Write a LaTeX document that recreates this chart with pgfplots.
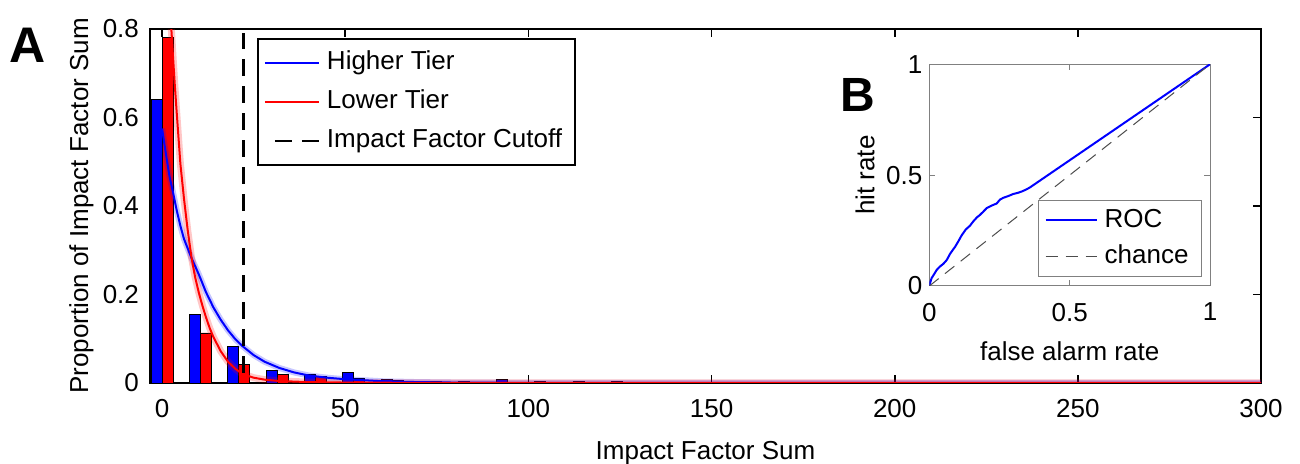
\documentclass[border=0pt]{standalone}
\usepackage{fontspec}
\setmainfont{Liberation Sans}
\usepackage{pgfplots}
\pgfplotsset{compat=1.18}

\begin{document}
\begin{tikzpicture}[font=\fontsize{13}{15.6}\selectfont]
\path[use as bounding box] (-75pt,-40.5pt) rectangle (575pt,191.5pt);

% panel A: histogram with fitted curves
\begin{axis}[
  at={(0,0)}, anchor=south west,
  scale only axis, width=555.5pt, height=177pt,
  xmin=-3.3, xmax=300, ymin=0, ymax=0.8,
  xtick={0,50,100,150,200,250,300},
  ytick={0,0.2,0.4,0.6,0.8},
  yticklabels={0,0.2,0.4,0.6,0.8},
  tick align=inside, major tick length=4pt,
  tick style={black, line width=0.8pt},
  axis line style={black, line width=0.9pt},
  /pgf/number format/assume math mode=true,
  xticklabel style={yshift=-4.5pt},
  yticklabel style={xshift=-2pt},
  xlabel={Impact Factor Sum},
  ylabel={Proportion of Impact Factor Sum},
  xlabel style={at={(axis description cs:0.5,-0.2175)}, anchor=base},
  ylabel style={at={(axis description cs:-0.0444,0.5)}, anchor=south},
  legend image code/.code={\draw[#1] (0pt,0pt) -- (27pt,0pt);},
  legend cell align=left,
  legend style={at={(axis description cs:0.0963,0.9746)}, anchor=north west,
    draw=black, line width=0.8pt, inner xsep=3pt, inner ysep=4pt,
    row sep=3.5pt,
    nodes={inner ysep=1.5pt, inner xsep=3.5pt, text height=10pt, text depth=3pt}},
]
\addplot[ybar, bar width=3, bar shift=-1.5, fill=blue, draw=black, line width=0.4pt, forget plot]
coordinates {
  (0,0.640) (10.47,0.154) (20.94,0.083) (31.41,0.029) (41.88,0.019) (52.35,0.024)
  (62.82,0.009) (73.29,0.004) (83.76,0.003) (94.23,0.008) (104.7,0.003) (115.17,0.003)
  (125.64,0.003) (136.11,0.002) (146.58,0.001) (157.05,0.001) (177.99,0.002)
  (199,0.001) (230.34,0.001) (261.75,0.001)
};
\addplot[ybar, bar width=3, bar shift=1.5, fill=red, draw=black, line width=0.4pt, forget plot]
coordinates {
  (0,0.781) (10.47,0.113) (20.94,0.042) (31.41,0.019) (41.88,0.014) (52.35,0.010)
  (62.82,0.006) (73.29,0.004) (83.76,0.002) (94.23,0.001) (104.7,0.001) (115.17,0.001)
  (125.64,0.001)
};

% confidence bands
\addplot[blue, opacity=0.22, line width=3pt, forget plot]
coordinates {
  (0,0.575) (1,0.52) (2,0.468) (3,0.43) (4,0.39) (5,0.355) (6,0.325) (8,0.283)
  (10,0.246) (12,0.205) (14,0.171) (16,0.143) (18,0.119) (20,0.099) (22,0.083)
  (25,0.063) (28,0.048) (32,0.034) (36,0.024) (40,0.017) (45,0.012) (50,0.0085)
  (60,0.004) (70,0.002) (80,0.001) (100,0.0003) (150,0) (300,0)
};
\addplot[red, opacity=0.22, line width=3.5pt, forget plot]
coordinates {
  (0,1.25) (1,1.05) (2,0.87) (2.6,0.79) (3,0.735) (3.5,0.67) (4,0.61) (5,0.495)
  (6,0.415) (7,0.345) (8,0.285) (9,0.24) (10,0.205) (11,0.175) (12,0.148) (13,0.124)
  (14,0.104) (16,0.072) (18,0.048) (20,0.032) (22,0.02) (25,0.012) (28,0.0075)
  (32,0.0045) (40,0.002) (50,0.001) (70,0.0003) (300,0)
};

% fitted curves
\addplot[blue, line width=1pt]
coordinates {
  (0,0.575) (1,0.52) (2,0.468) (3,0.43) (4,0.39) (5,0.355) (6,0.325) (8,0.283)
  (10,0.246) (12,0.205) (14,0.171) (16,0.143) (18,0.119) (20,0.099) (22,0.083)
  (25,0.063) (28,0.048) (32,0.034) (36,0.024) (40,0.017) (45,0.012) (50,0.0085)
  (60,0.004) (70,0.002) (80,0.001) (100,0.0003) (150,0) (300,0)
};
\addlegendentry{Higher Tier}
\addplot[red, line width=1pt]
coordinates {
  (0,1.25) (1,1.05) (2,0.87) (2.6,0.79) (3,0.735) (3.5,0.67) (4,0.61) (5,0.495)
  (6,0.415) (7,0.345) (8,0.285) (9,0.24) (10,0.205) (11,0.175) (12,0.148) (13,0.124)
  (14,0.104) (16,0.072) (18,0.048) (20,0.032) (22,0.02) (25,0.012) (28,0.0075)
  (32,0.0045) (40,0.002) (50,0.001) (70,0.0003) (300,0)
};
\addlegendentry{Lower Tier}
\addplot[black, line width=1.1pt, dash pattern=on 8.5pt off 5pt, dash phase=8.5pt]
coordinates {(22.2,0) (22.2,0.79)};
\addlegendentry{Impact Factor Cutoff}
\end{axis}

% panel B: ROC inset
\begin{axis}[
  at={(389.65pt,48.5pt)}, anchor=south west,
  scale only axis, width=140.35pt, height=110.85pt,
  xmin=0, xmax=1, ymin=0, ymax=1,
  xtick={0,0.5,1}, ytick={0,0.5,1},
  xticklabels={0,0.5,1}, yticklabels={0,0.5,1},
  tick align=inside, major tick length=3pt,
  tick style={gray, line width=0.5pt},
  axis line style={gray, line width=0.5pt},
  axis background/.style={fill=white},
  /pgf/number format/assume math mode=true,
  xticklabel style={yshift=-5pt},
  xlabel={false alarm rate},
  ylabel={hit rate},
  xlabel style={at={(axis description cs:0.5,-0.334)}, anchor=base},
  ylabel style={at={(axis description cs:-0.1696,0.5)}, anchor=south},
  legend image code/.code={\draw[#1] (0pt,0pt) -- (25.5pt,0pt);},
  legend cell align=left,
  legend style={at={(axis description cs:0.9715,0.0406)}, anchor=south east,
    draw=gray, line width=0.5pt, inner xsep=3pt, inner ysep=2pt,
    row sep=2pt,
    nodes={inner ysep=1.5pt, inner xsep=3.5pt, text height=10pt, text depth=3pt}},
]
\addplot[blue, line width=1pt]
coordinates {
  (0,0) (0.002,0.01) (0.008,0.035) (0.018,0.055) (0.026,0.072) (0.038,0.088)
  (0.05,0.1) (0.062,0.117) (0.074,0.145) (0.085,0.165) (0.092,0.177) (0.105,0.205)
  (0.115,0.228) (0.13,0.255) (0.145,0.272) (0.157,0.292) (0.17,0.31) (0.18,0.32)
  (0.192,0.335) (0.205,0.352) (0.215,0.358) (0.228,0.366) (0.24,0.372) (0.252,0.39)
  (0.264,0.398) (0.28,0.405) (0.299,0.415) (0.315,0.42) (0.329,0.426) (0.345,0.435)
  (0.359,0.445) (1,1)
};
\addlegendentry{ROC}
\addplot[black!70, line width=0.5pt, dash pattern=on 6pt off 4pt]
coordinates {(0,0) (1,1)};
\addlegendentry{chance}
\end{axis}

\node[font=\bfseries\fontsize{25}{25}\selectfont] at (-61.25pt,169pt) {A};
\node[font=\bfseries\fontsize{24}{24}\selectfont] at (354.15pt,144pt) {B};
\end{tikzpicture}
\end{document}
